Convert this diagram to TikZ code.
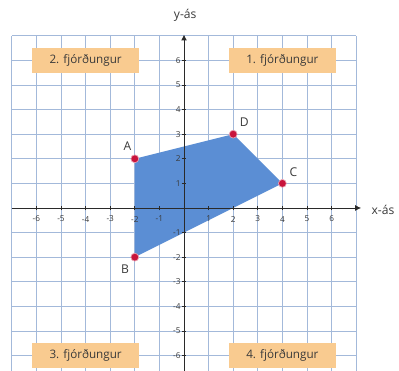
\documentclass[tikz,border=0pt]{standalone}
\usepackage{fontspec}
\setmainfont{Open Sans}
\usetikzlibrary{arrows.meta}
\definecolor{gridc}{HTML}{A3B9DA}
\definecolor{polyc}{HTML}{5B8ED4}
\definecolor{dotc}{HTML}{C8143C}
\definecolor{boxc}{HTML}{F9CB90}
\definecolor{axc}{HTML}{2A2A2A}
\definecolor{txtc}{HTML}{3A3A3A}
\tikzset{
  quad/.style={fill=boxc, minimum width=4.35cm, minimum height=1.0cm, inner sep=0pt, font=\fontsize{13.5}{15}\selectfont, text=txtc},
  pt/.style={circle, fill=dotc, draw=dotc!40, line width=0.8pt, inner sep=0pt, minimum size=0.32cm},
  ptlab/.style={font=\fontsize{14}{16}\selectfont, text=txtc},
  tick/.style={font=\fontsize{9.5}{11}\selectfont, text=txtc},
  axlab/.style={font=\fontsize{14}{16}\selectfont, text=txtc}
}
\begin{document}
\begin{tikzpicture}
\useasboundingbox[fill=white] (-7.48,-6.626) rectangle (8.74,8.455);
% grid
\foreach \x in {-7,...,7} \draw[gridc, line width=0.9pt] (\x,-6.626) -- (\x,7);
\foreach \y in {-6,...,7} \draw[gridc, line width=0.9pt] (-7,\y) -- (7,\y);
% quadrant labels
\node[quad] (q2) at (-4,6) {2. fjórðungur};
\node[quad] (q1) at (4,6) {1. fjórðungur};
\node[quad] (q3) at (-4,-6) {3. fjórðungur};
\node[quad] (q4) at (4,-6) {4. fjórðungur};
% polygon
\coordinate (pa) at (-2,2);
\coordinate (pd) at (2,3);
\coordinate (pc) at (4,1);
\coordinate (pb) at (-2,-2);
\fill[polyc] (pa) -- (pd) -- (pc) -- (pb) -- cycle;
% axes
\coordinate (xs) at (-7,0);
\coordinate (xe) at (7.2,0);
\coordinate (ys) at (0,-6.626);
\coordinate (ye) at (0,7.05);
\draw[axc, line width=1.1pt, -{Latex[length=2.4mm,width=2.4mm]}] (xs) -- (xe);
\draw[axc, line width=1.1pt, -{Latex[length=2.4mm,width=2.4mm]}] (ys) -- (ye);
\foreach \x in {-6,...,-1,1,2,...,6} {
  \draw[axc, line width=0.9pt] (\x,-0.1) -- (\x,0.1);
  \node[tick] (tx\x) at (\x,-0.45) {\x};
}
\foreach \y in {-6,...,-1,1,2,...,6} {
  \draw[axc, line width=0.9pt] (-0.1,\y) -- (0.1,\y);
  \node[tick, anchor=east] (ty\y) at (-0.02,\y) {\y};
}
\node[axlab, anchor=west] (xl) at (7.5,-0.08) {x-ás};
\node[axlab] (yl) at (0.05,7.85) {y-ás};
% points
\node[pt] (A) at (pa) {};
\node[pt] (D) at (pd) {};
\node[pt] (C) at (pc) {};
\node[pt] (B) at (pb) {};
\node[ptlab] (lA) at (-2.3,2.5) {A};
\node[ptlab] (lD) at (2.45,3.5) {D};
\node[ptlab] (lC) at (4.45,1.45) {C};
\node[ptlab] (lB) at (-2.4,-2.5) {B};
\end{tikzpicture}
\end{document}
